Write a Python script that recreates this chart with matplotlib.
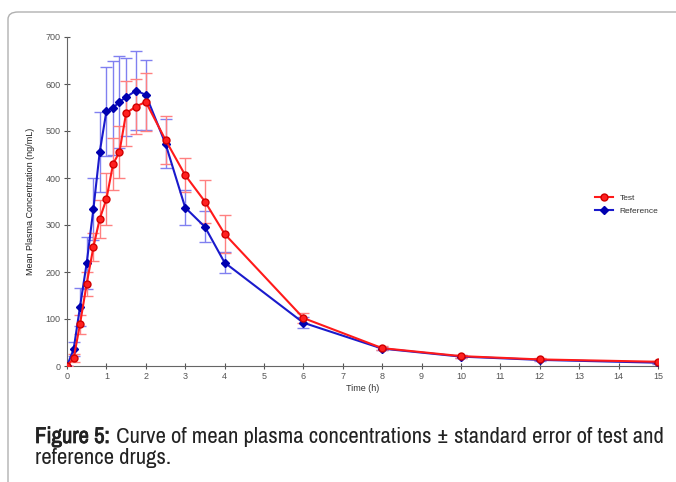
import matplotlib
matplotlib.use("Agg")
import matplotlib.pyplot as plt
import matplotlib.patheffects as pe
from matplotlib import font_manager
from matplotlib.patches import FancyBboxPatch

# sampling times (h)
time_h = [0, 0.17, 0.33, 0.5, 0.67, 0.83, 1.0, 1.17, 1.33, 1.5, 1.75, 2.0,
          2.5, 3.0, 3.5, 4.0, 6.0, 8.0, 10.0, 12.0, 15.0]

# mean plasma concentration (ng/mL) and standard error
test_mean = [0, 17, 89, 175, 253, 313, 355, 430, 455, 538, 552, 562,
             481, 406, 350, 281, 102, 38, 21, 14, 9]
test_se = [0, 8, 20, 25, 30, 40, 56, 55, 55, 69, 59, 61,
           51, 36, 46, 40, 10, 4, 3, 2, 2]

ref_mean = [0, 36, 126, 219, 334, 455, 542, 549, 562, 572, 586, 577,
            473, 337, 296, 220, 92, 37, 20, 13, 7]
ref_se = [0, 15, 40, 55, 65, 85, 95, 100, 98, 83, 84, 75,
          52, 37, 33, 23, 12, 4, 3, 2, 2]

xticks = list(range(0, 16))
yticks = list(range(0, 701, 100))

caption_bold = 'Figure 5:'
caption_rest = ' Curve of mean plasma concentrations \u00b1 standard error of test and'
caption_line2 = 'reference drugs.'

plt.rcParams['font.family'] = ['Liberation Sans', 'DejaVu Sans']

# a condensed face if one is installed, else the plain sans
names = sorted({f.name for f in font_manager.fontManager.ttflist})
narrow = [n for n in names if 'Narrow' in n or 'Condensed' in n]
cap_font = narrow[0] if narrow else 'Liberation Sans'
# that face may have no bold, so thicken the lead-in with a stroke
fake_bold = [pe.withStroke(linewidth=0.55, foreground='#222222')]

fig = plt.figure(figsize=(6.76, 4.82), dpi=100)

# rounded frame around the figure panel
frame = FancyBboxPatch((8 / 676, -0.05), 1.2, 1 - 12 / 482 + 0.05,
                       boxstyle="round,pad=0,rounding_size=0.015",
                       transform=fig.transFigure, facecolor='none',
                       edgecolor='#b0b0b0', linewidth=1.0)
fig.patches.append(frame)

ax = fig.add_axes([67 / 676, 1 - 366 / 482, (658 - 67) / 676, (366 - 37) / 482])

ax.errorbar(time_h, ref_mean, yerr=ref_se, fmt='none', ecolor='#8080f0',
            elinewidth=1.0, capsize=4, capthick=1.0, zorder=2)
ax.errorbar(time_h, test_mean, yerr=test_se, fmt='none', ecolor='#ff8080',
            elinewidth=1.0, capsize=4, capthick=1.0, zorder=3)
ax.plot(time_h, ref_mean, color='#1a1acc', marker='D', markersize=4.5,
        markerfacecolor='#0000b0', markeredgecolor='#0000b0', linewidth=1.5,
        label='Reference', zorder=4)
ax.plot(time_h, test_mean, color='#ff1a1a', marker='o', markersize=5,
        markerfacecolor='#ff2020', markeredgecolor='#d00000', linewidth=1.5,
        label='Test', zorder=5)

ax.set_xlim(0, 15)
ax.set_ylim(0, 700)
ax.set_xticks(xticks)
ax.set_yticks(yticks)
ax.tick_params(direction='inout', length=5, width=0.8, colors='#555555',
               labelsize=6.5, labelcolor='#555555', pad=2)
for side in ['top', 'right']:
    ax.spines[side].set_visible(False)
for side in ['left', 'bottom']:
    ax.spines[side].set_color('#666666')
    ax.spines[side].set_linewidth(0.8)

ax.set_xlabel('Time (h)', fontsize=6.5, color='#333333', labelpad=2)
ax.set_ylabel('Mean Plasma Concentration (ng/mL)', fontsize=6.5,
              color='#222222', labelpad=8)

handles, labels = ax.get_legend_handles_labels()
leg = ax.legend(handles[::-1], labels[::-1], loc='center left',
                bbox_to_anchor=(0.88, 0.49), frameon=False, fontsize=6,
                handlelength=2.2, handletextpad=0.8, labelspacing=0.6)
for t in leg.get_texts():
    t.set_color('#333333')

# caption: bold lead-in followed by normal text, fitted to ~630 px
renderer = fig.canvas.get_renderer()
size = 14
for _ in range(3):
    tb = fig.text(0, 0, caption_bold, fontsize=size, family=cap_font)
    tr = fig.text(0, 0, caption_rest, fontsize=size, family=cap_font)
    w = tb.get_window_extent(renderer).width + tr.get_window_extent(renderer).width
    tb.remove()
    tr.remove()
    size = size * 628 / w

x0 = 35 / 676
y1 = 1 - 437 / 482
y2 = 1 - 458 / 482
tb = fig.text(x0, y1, caption_bold, fontsize=size, family=cap_font,
              va='center', ha='left', color='#222222', path_effects=fake_bold)
bw = (tb.get_window_extent(renderer).width + 1) / 676
fig.text(x0 + bw, y1, caption_rest, fontsize=size, family=cap_font,
         va='center', ha='left', color='#222222')
fig.text(x0, y2, caption_line2, fontsize=size, family=cap_font,
         va='center', ha='left', color='#222222')

fig.savefig('out.png', dpi=100)
